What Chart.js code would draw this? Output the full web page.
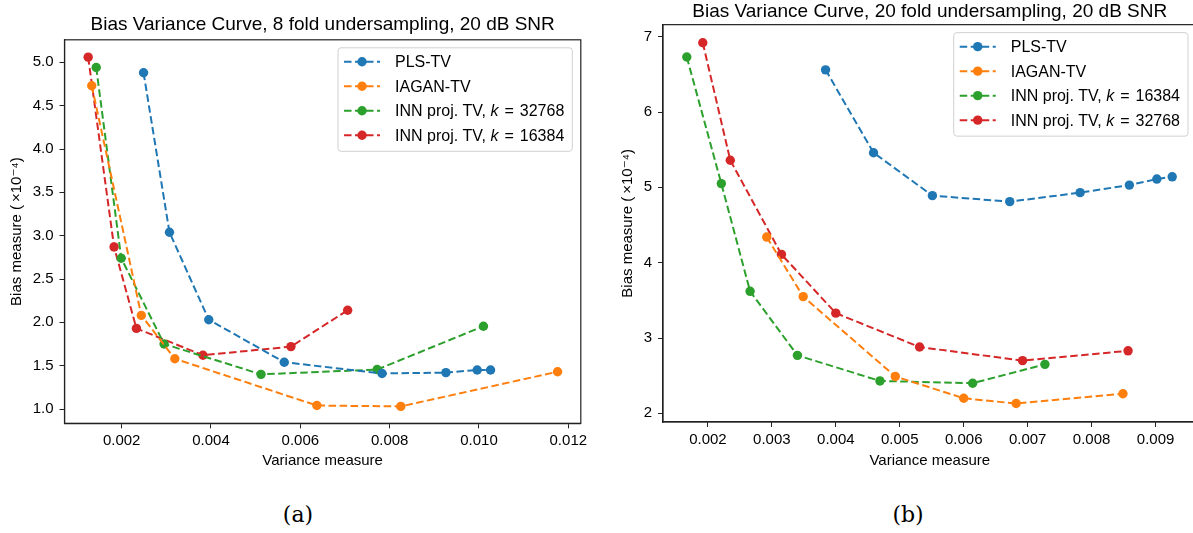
<!DOCTYPE html>
<html>
<head>
<meta charset="utf-8">
<script src="https://cdn.jsdelivr.net/npm/chart.js@4.4.0/dist/chart.umd.min.js"></script>
<style>
    html, body { margin: 0; padding: 0; background: #fff; }
    body { width: 1193px; height: 533px; overflow: hidden; position: relative; }
    #boxA { position: absolute; left: 0; top: 0; width: 596px; height: 480px; }
    #boxB { position: absolute; left: 596px; top: 0; width: 620px; height: 480px; }
    .caption {
        position: absolute; top: 500px; transform: translateX(-50%);
        font-family: 'DejaVu Serif', 'Liberation Serif', serif; font-size: 22px; color: #000;
        line-height: 30px;
    }
</style>
</head>
<body>
<div id="boxA"><canvas id="chartA" width="596" height="480"></canvas></div>
<div id="boxB"><canvas id="chartB" width="620" height="480"></canvas></div>
<div class="caption" style="left:298px">(a)</div>
<div class="caption" style="left:908px">(b)</div>

<script>
// 색상 (matplotlib 기본)
const colors = ['#1f77b4', '#ff7f0e', '#2ca02c', '#d62728'];

// (a) 8 fold undersampling
const labelsA = ['PLS-TV', 'IAGAN-TV', 'INN proj. TV, k = 32768', 'INN proj. TV, k = 16384'];
const plsA_x = [0.00249, 0.00307, 0.00395, 0.00564, 0.00783, 0.00926, 0.00996, 0.01026];
const plsA_y = [4.88, 3.04, 2.03, 1.54, 1.41, 1.42, 1.45, 1.45];
const iaganA_x = [0.00133, 0.00244, 0.00319, 0.00637, 0.00825, 0.01176];
const iaganA_y = [4.73, 2.08, 1.58, 1.04, 1.03, 1.43];
const inn32A_x = [0.00143, 0.00199, 0.00295, 0.00512, 0.00772, 0.0101];
const inn32A_y = [4.94, 2.74, 1.75, 1.40, 1.455, 1.955];
const inn16A_x = [0.00125, 0.00183, 0.00233, 0.00382, 0.00579, 0.00706];
const inn16A_y = [5.06, 2.87, 1.93, 1.62, 1.72, 2.14];
const xTicksA = [0.002, 0.004, 0.006, 0.008, 0.010, 0.012];
const xTickLabelsA = ['0.002', '0.004', '0.006', '0.008', '0.010', '0.012'];
const yTicksA = [1.0, 1.5, 2.0, 2.5, 3.0, 3.5, 4.0, 4.5, 5.0];
const yTickLabelsA = ['1.0', '1.5', '2.0', '2.5', '3.0', '3.5', '4.0', '4.5', '5.0'];

// (b) 20 fold undersampling
const labelsB = ['PLS-TV', 'IAGAN-TV', 'INN proj. TV, k = 16384', 'INN proj. TV, k = 32768'];
const plsB_x = [0.00384, 0.00459, 0.00551, 0.00672, 0.00782, 0.00859, 0.00902, 0.00926];
const plsB_y = [6.56, 5.46, 4.89, 4.81, 4.93, 5.03, 5.11, 5.14];
const iaganB_x = [0.00292, 0.00349, 0.00493, 0.0060, 0.00682, 0.00849];
const iaganB_y = [4.34, 3.55, 2.49, 2.20, 2.13, 2.26];
const inn16B_x = [0.00167, 0.00221, 0.00266, 0.0034, 0.00469, 0.00614, 0.00727];
const inn16B_y = [6.73, 5.05, 3.62, 2.77, 2.43, 2.40, 2.65];
const inn32B_x = [0.00192, 0.00235, 0.00315, 0.0040, 0.00531, 0.00692, 0.00857];
const inn32B_y = [6.92, 5.36, 4.11, 3.33, 2.88, 2.70, 2.83];
const xTicksB = [0.002, 0.003, 0.004, 0.005, 0.006, 0.007, 0.008, 0.009];
const xTickLabelsB = ['0.002', '0.003', '0.004', '0.005', '0.006', '0.007', '0.008', '0.009'];
const yTicksB = [2, 3, 4, 5, 6, 7];
const yTickLabelsB = ['2', '3', '4', '5', '6', '7'];

const FONT = "'Liberation Sans', 'DejaVu Sans', sans-serif";

function toPoints(xs, ys) {
    return xs.map((x, i) => ({ x: x, y: ys[i] }));
}

function makeDataset(label, xs, ys, color) {
    return {
        label: label,
        data: toPoints(xs, ys),
        showLine: true,
        borderColor: color,
        backgroundColor: color,
        borderWidth: 2,
        borderDash: [7.5, 3.5],
        pointRadius: 4.7,
        pointHoverRadius: 4.7,
        pointBorderWidth: 0,
        pointBackgroundColor: color
    };
}

// 축 테두리 (위/오른쪽 포함)
const framePlugin = {
    id: 'frame',
    afterDraw(chart) {
        const a = chart.chartArea;
        const ctx = chart.ctx;
        ctx.save();
        ctx.strokeStyle = '#222';
        ctx.lineWidth = 1.2;
        ctx.strokeRect(a.left, a.top, a.right - a.left, a.bottom - a.top);
        ctx.restore();
    }
};

// 범례 글자 (k 는 이탤릭)
function drawLabel(ctx, text, x, y, doDraw) {
    const m = text.match(/^(.*?)k = (.*)$/);
    let cx = x;
    const normal = '16px ' + FONT;
    const italic = 'italic 16px ' + FONT;
    if (!m) {
        ctx.font = normal;
        if (doDraw) ctx.fillText(text, cx, y);
        return ctx.measureText(text).width;
    }
    ctx.font = normal;
    if (doDraw) ctx.fillText(m[1], cx, y);
    cx += ctx.measureText(m[1]).width;
    ctx.font = italic;
    if (doDraw) ctx.fillText('k', cx, y);
    cx += ctx.measureText('k').width + 6;
    ctx.font = normal;
    if (doDraw) ctx.fillText('=', cx, y);
    cx += ctx.measureText('=').width + 6;
    if (doDraw) ctx.fillText(m[2], cx, y);
    cx += ctx.measureText(m[2]).width;
    return cx - x;
}

// 범례 (matplotlib 스타일, 오른쪽 위)
const legendPlugin = {
    id: 'mplLegend',
    afterDraw(chart, args, opts) {
        const ctx = chart.ctx;
        const a = chart.chartArea;
        const sets = chart.data.datasets;
        ctx.save();
        let maxW = 0;
        sets.forEach(ds => { maxW = Math.max(maxW, drawLabel(ctx, ds.label, 0, 0, false)); });
        const rowH = 24.5;
        const w = 6 + 36 + 15 + maxW + 8;
        const h = 14 + (sets.length - 1) * rowH + 16;
        const x0 = a.right - opts.right - w;
        const y0 = a.top + opts.top;

        ctx.beginPath();
        ctx.roundRect(x0, y0, w, h, 3);
        ctx.fillStyle = 'rgba(255,255,255,0.85)';
        ctx.fill();
        ctx.strokeStyle = '#d0d0d0';
        ctx.lineWidth = 1;
        ctx.stroke();

        sets.forEach((ds, i) => {
            const y = y0 + 14 + i * rowH;
            ctx.strokeStyle = ds.borderColor;
            ctx.lineWidth = 2;
            ctx.setLineDash([7.5, 3.5]);
            ctx.beginPath();
            ctx.moveTo(x0 + 6, y);
            ctx.lineTo(x0 + 42, y);
            ctx.stroke();
            ctx.setLineDash([]);
            ctx.fillStyle = ds.borderColor;
            ctx.beginPath();
            ctx.arc(x0 + 24, y, 4.7, 0, Math.PI * 2);
            ctx.fill();
            ctx.fillStyle = '#000';
            ctx.textBaseline = 'middle';
            ctx.textAlign = 'left';
            drawLabel(ctx, ds.label, x0 + 57, y + 1, true);
        });
        ctx.restore();
    }
};

function makeChart(canvasId, cfg) {
    const ctx = document.getElementById(canvasId).getContext('2d');
    return new Chart(ctx, {
        type: 'scatter',
        data: { datasets: cfg.datasets },
        plugins: [framePlugin, legendPlugin],
        options: {
            responsive: false,
            animation: false,
            layout: { padding: { left: 0, right: cfg.padRight, top: 0, bottom: 0 } },
            plugins: {
                legend: { display: false },
                tooltip: { enabled: false },
                title: {
                    display: true,
                    text: cfg.title,
                    fullSize: false,
                    color: '#000',
                    font: { family: FONT, size: 19, weight: 'normal', lineHeight: 1.2 },
                    padding: cfg.titlePad
                },
                mplLegend: { right: 8.5, top: 8 }
            },
            scales: {
                x: {
                    type: 'linear',
                    min: cfg.xMin,
                    max: cfg.xMax,
                    afterFit: s => { s.height = cfg.xAxisH; },
                    afterBuildTicks: s => { s.ticks = cfg.xTicks.map(v => ({ value: v })); },
                    ticks: {
                        color: '#000',
                        font: { family: FONT, size: 15 },
                        padding: 4,
                        maxRotation: 0,
                        autoSkip: false,
                        callback: (v, i) => cfg.xTickLabels[i]
                    },
                    grid: { drawOnChartArea: false, drawTicks: true, tickLength: 5, color: '#222' },
                    border: { display: true, color: '#222', width: 1.2 },
                    title: {
                        display: true,
                        text: 'Variance measure',
                        color: '#000',
                        font: { family: FONT, size: 15, lineHeight: 1.2 },
                        padding: { top: 0, bottom: 10 }
                    }
                },
                y: {
                    type: 'linear',
                    min: cfg.yMin,
                    max: cfg.yMax,
                    afterFit: s => { s.width = cfg.yAxisW; },
                    afterBuildTicks: s => { s.ticks = cfg.yTicks.map(v => ({ value: v })); },
                    ticks: {
                        color: '#000',
                        font: { family: FONT, size: 15 },
                        padding: 6,
                        autoSkip: false,
                        callback: (v, i) => cfg.yTickLabels[i]
                    },
                    grid: { drawOnChartArea: false, drawTicks: true, tickLength: 5, color: '#222' },
                    border: { display: true, color: '#222', width: 1.2 },
                    title: {
                        display: true,
                        text: 'Bias measure (\u2009\u00d710\u207b\u2074)',
                        color: '#000',
                        font: { family: FONT, size: 15, lineHeight: 1.2 },
                        padding: { top: cfg.yTitlePad, bottom: 0 }
                    }
                }
            }
        }
    });
}

makeChart('chartA', {
    title: 'Bias Variance Curve, 8 fold undersampling, 20 dB SNR',
    datasets: [
        makeDataset(labelsA[0], plsA_x, plsA_y, colors[0]),
        makeDataset(labelsA[1], iaganA_x, iaganA_y, colors[1]),
        makeDataset(labelsA[2], inn32A_x, inn32A_y, colors[2]),
        makeDataset(labelsA[3], inn16A_x, inn16A_y, colors[3])
    ],
    xMin: 0.00072, xMax: 0.01228, yMin: 0.835, yMax: 5.26,
    xTicks: xTicksA, xTickLabels: xTickLabelsA,
    yTicks: yTicksA, yTickLabels: yTickLabelsA,
    padRight: 15.2, yAxisW: 64.5, xAxisH: 56.7,
    titlePad: { top: 13.6, bottom: 3.4 },
    yTitlePad: 8
});

makeChart('chartB', {
    title: 'Bias Variance Curve, 20 fold undersampling, 20 dB SNR',
    datasets: [
        makeDataset(labelsB[0], plsB_x, plsB_y, colors[0]),
        makeDataset(labelsB[1], iaganB_x, iaganB_y, colors[1]),
        makeDataset(labelsB[2], inn16B_x, inn16B_y, colors[2]),
        makeDataset(labelsB[3], inn32B_x, inn32B_y, colors[3])
    ],
    xMin: 0.001298, xMax: 0.00964, yMin: 1.885, yMax: 7.16,
    xTicks: xTicksB, xTickLabels: xTickLabelsB,
    yTicks: yTicksB, yTickLabels: yTickLabelsB,
    padRight: 19.5, yAxisW: 67, xAxisH: 58,
    titlePad: { top: 0, bottom: 1.85 },
    yTitlePad: 22.4
});
</script>
</body>
</html>
